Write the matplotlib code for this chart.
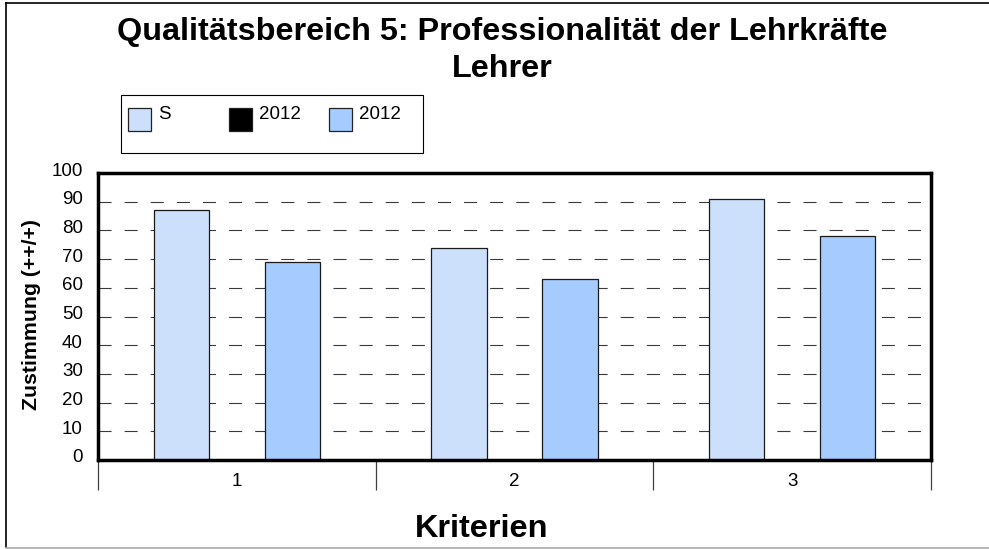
import numpy as np
import matplotlib
matplotlib.use("Agg")
import matplotlib.pyplot as plt
import matplotlib.transforms as mtransforms
from matplotlib.patches import Rectangle
from matplotlib.lines import Line2D

plt.rcParams['font.family'] = ['Liberation Sans', 'DejaVu Sans']
plt.rcParams['lines.scale_dashes'] = False

# ---- data ----
title_lines = ["Qualitätsbereich 5: Professionalität der Lehrkräfte", "Lehrer"]
categories = ["1", "2", "3"]
series_names = ["S", "2012", "2012"]
series_colors = ["#CCE0FC", "#000000", "#A6CBFF"]
values_s = [87, 74, 91]
values_2012_a = [None, None, None]
values_2012_b = [69, 63, 78]
series_values = [values_s, values_2012_a, values_2012_b]
y_ticks = [0, 10, 20, 30, 40, 50, 60, 70, 80, 90, 100]
x_label = "Kriterien"
y_label = "Zustimmung (++/+)"

W, H = 989, 549
fig = plt.figure(figsize=(W / 100, H / 100), dpi=100)


def fx(x):
    return x / W


def fy(y):
    return 1 - y / H


# plot area
ax_l, ax_r, ax_t, ax_b = 98, 931, 173, 460
ax = fig.add_axes([fx(ax_l), fy(ax_b), fx(ax_r - ax_l), (ax_b - ax_t) / H])

n_series = len(series_values)
slot = 0.2
x = np.arange(len(categories))
for i, (vals, col) in enumerate(zip(series_values, series_colors)):
    offset = (i - (n_series - 1) / 2) * slot
    heights = [v for v in vals if v is not None]
    pos = [xx + offset for xx, v in zip(x, vals) if v is not None]
    if heights:
        ax.bar(pos, heights, width=slot, color=col, edgecolor="#1a1a1a",
               linewidth=0.9, zorder=3)

ax.set_xlim(-0.5, len(categories) - 0.5)
ax.set_ylim(0, 100)

# dashed horizontal grid lines
for t in y_ticks[1:-1]:
    ax.axhline(t, color="#3a3a3a", linewidth=0.8, linestyle=(0, (9.4, 9.4)),
               zorder=1)

for s in ax.spines.values():
    s.set_linewidth(2.5)
    s.set_color("black")
    s.set_zorder(5)

ax.set_yticks(y_ticks)
ax.set_yticklabels([str(t) for t in y_ticks])
ax.tick_params(axis="y", length=0, pad=11, labelsize=13.5)
shift = mtransforms.ScaledTranslation(0, 4 / 100, fig.dpi_scale_trans)
for lab in ax.get_yticklabels():
    lab.set_transform(lab.get_transform() + shift)

ax.set_xticks(x)
ax.set_xticklabels(categories)
ax.set_xticks(np.arange(len(categories) + 1) - 0.5, minor=True)
ax.tick_params(axis="x", which="major", length=0, pad=9.5, labelsize=13.5)
ax.tick_params(axis="x", which="minor", length=21.5, width=0.9,
               color="#404040", direction="out")

# axis titles
fig.text(fx(482), fy(537), x_label, ha="center", va="baseline",
         fontsize=23.4, fontweight="bold")
fig.text(fx(32), fy(315), y_label, ha="center", va="center", rotation=90,
         fontsize=15.3, fontweight="bold")

# title
fig.text(fx(502), fy(40), title_lines[0], ha="center", va="baseline",
         fontsize=23.3, fontweight="bold")
fig.text(fx(502), fy(77), title_lines[1], ha="center", va="baseline",
         fontsize=23.3, fontweight="bold")

# legend box
fig.add_artist(Rectangle((fx(121), fy(153)), fx(423 - 121), (153 - 95) / H,
                         transform=fig.transFigure, facecolor="white",
                         edgecolor="black", linewidth=0.8))
leg_x = [128, 229, 329]
for lx, name, col in zip(leg_x, series_names, series_colors):
    fig.add_artist(Rectangle((fx(lx), fy(131)), fx(23), 23 / H,
                             transform=fig.transFigure, facecolor=col,
                             edgecolor="#222222", linewidth=0.9))
    fig.text(fx(lx + 30), fy(119), name, ha="left", va="baseline",
             fontsize=13.5)

# outer border
fig.add_artist(Line2D([fx(6), fx(6)], [fy(3), fy(547)], color="black",
                      linewidth=1.2, transform=fig.transFigure))
fig.add_artist(Line2D([fx(6), 1], [fy(3), fy(3)], color="black",
                      linewidth=1.2, transform=fig.transFigure))
fig.add_artist(Line2D([fx(6), 1], [fy(547.5), fy(547.5)], color="#aaaaaa",
                      linewidth=1.2, transform=fig.transFigure))

fig.savefig("out.png", dpi=100)
